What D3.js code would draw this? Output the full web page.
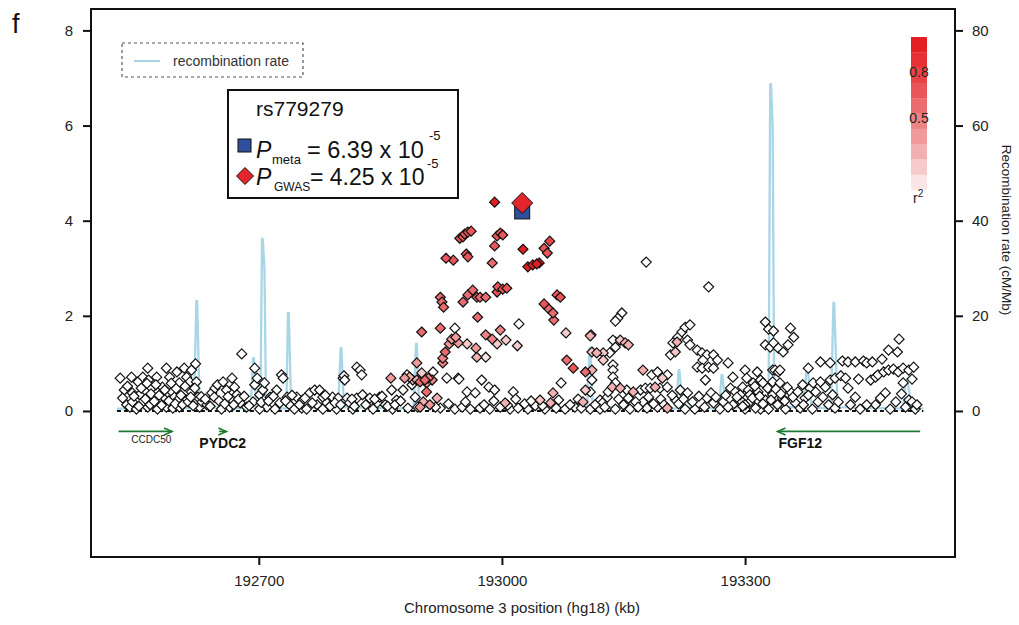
<!DOCTYPE html>
<html lang="en">
<head>
<meta charset="utf-8">
<title>rs779279 regional plot</title>
<script src="https://cdn.jsdelivr.net/npm/d3@7"></script>
<style>
  body { margin: 0; background: #fff; }
  svg { display: block; font-family: "Liberation Sans", Arial, sans-serif; }
</style>
</head>
<body>
<div id="chart"></div>
<script>
// ---- data ----------------------------------------------------------------
// SNP position (kb, hg18), -log10 P and r2 with the lead SNP
const snpPos = [
  // left cloud
  192529,192534,192537,192541,192543,192544,192544,192549,192551,192553,
  192557,192563,192563,192564,192566,192568,192569,192574,192575,192578,
  192581,192586,192586,192588,192590,192593,192594,192596,192599,192600,
  192602,192602,192608,192611,192611,192615,192617,192617,192622,192623,
  192625,192627,
  // 192630 - 192946
  192630,192636,192642,192646,192649,192656,192660,192667,192670,192673,
  192664,192654,192679,192677,192685,192693,192695,192698,192695,192701,
  192705,192707,192714,192710,192722,192728,192730,192726,192735,192738,
  192747,192754,192753,192763,192769,192775,192779,192772,192784,192791,
  192798,192804,192805,192806,192809,192812,192821,192825,192827,192821,
  192828,192837,192846,192849,192856,192863,192864,192870,192878,192880,
  192886,192889,192893,192895,192896,192884,192865,192841,192816,192796,
  192779,192759,192744,192720,192701,192883,192895,192901,192924,192942,
  192930,192927,192927,192899,192905,192909,192914,192907,192920,192901,
  192915,192932,192946,192899,
  // association peak
  192991,192948,192952,192954,192958,192962,192994,192998,193001,192991,
  193026,193052,193059,193056,192956,192958,192931,192940,192988,193032,
  193038,193043,193046,192924,192926,192928,192952,192958,192964,192969,
  192973,192980,192994,192995,193001,193006,193068,193072,193052,193057,
  193063,193064,192970,192998,192980,192988,193005,192994,193021,193019,
  192938,192943,192946,192935,192957,192968,192980,192969,193079,193110,
  193080,193088,193103,193111,193073,193063,193103,192947,192975,192984,
  192957,192967,193014,192991,192907,192890,192924,192942,192951,192961,
  192973,192985,192998,193010,193020,193032,193041,193053,193067,193078,
  193090,193109,193004,193047,193100,
  // 193100 - 193320
  193148,193143,193140,193178,193255,193109,193111,193117,193125,193133,
  193125,193111,193140,193137,193146,193152,193156,193140,193137,193137,
  193137,193140,193174,193109,193121,193130,193124,193136,193146,193154,
  193162,193171,193177,193183,193189,193195,193204,193185,193192,193198,
  193204,193208,193214,193211,193217,193222,193226,193232,193229,193232,
  193216,193241,193247,193253,193261,193266,193248,193241,193247,193255,
  193261,193279,193251,193285,193300,193315,193282,193288,193297,193304,
  193310,193220,193229,193214,193253,193261,193273,193285,193294,193306,
  193162,193174,193192,193204,193179,193121,193140,193158,193226,193238,
  193269,193300,193319,
  // FGF12 region
  193325,193329,193335,193356,193360,193325,193331,193335,193341,193347,
  193353,193334,193337,193341,193343,193302,193319,193322,193334,193343,
  193378,193393,193405,193420,193427,193436,193446,193450,193457,193469,
  193477,193488,193490,193371,193380,193384,193393,193399,193405,193411,
  193418,193424,193427,193440,193455,193461,193464,193471,193477,193483,
  193489,193495,193502,193508,193506,193495,193473,193502,193506,193403,
  193411,193294,193300,193306,193313,193316,193325,193329,193334,193340,
  193346,193350,193356,193362,193368,193374,193383,193390,193430,193442,
  193461,193479,193498,193510,
  // low band along the whole region
  192532,192538,192546,192552,192555,192560,192562,192567,192571,192573,
  192577,192580,192584,192589,192592,192597,192598,192604,192606,192609,
  192613,192616,192619,192621,192629,192634,192640,192645,192651,192658,
  192662,192669,192675,192682,192688,192703,192712,192718,192733,192741,
  192750,192757,192766,192782,192788,192794,192801,192815,192818,192832,
  192843,192852,192859,192868,192875,192903,192911,192918,192934,192955,
  192978,192990,193007,193017,193028,193036,193050,193060,193070,193084,
  193094,193098,193115,193127,193131,193144,193150,193156,193165,193168,
  193181,193187,193196,193200,193210,193218,193224,193235,193243,193250,
  193258,193264,193276,193279,193290,193297,193309,193312,193318,193322,
  193328,193332,193338,193344,193349,193352,193359,193365,193372,193378,
  193387,193396,193408,193415,193436,193450,193467,193486,193493,193512
];
const snpLogP = [
  0.69,0.44,0.13,0.08,0.71,0.38,0.19,0.04,0.61,0.34,
  0.71,0.90,0.08,0.65,0.13,0.48,0.29,0.71,0.04,0.17,
  0.50,0.90,0.08,0.38,0.71,0.40,0.06,0.29,0.82,0.23,
  0.59,0.08,0.90,0.71,0.23,0.61,0.86,0.40,0.99,0.61,
  0.29,0.08,

  0.19,0.13,0.38,0.48,0.55,0.61,0.44,0.69,0.50,0.34,
  0.08,0.04,1.20,0.17,0.08,0.19,0.55,0.69,0.90,0.34,
  0.44,0.59,0.29,0.08,0.44,0.76,0.69,0.17,0.29,0.13,
  0.29,0.23,0.06,0.38,0.44,0.44,0.29,0.13,0.17,0.29,
  0.27,0.69,0.74,0.65,0.27,0.17,0.92,0.86,0.76,0.27,
  0.34,0.27,0.17,0.29,0.13,0.69,0.44,0.23,0.44,0.69,
  0.71,0.55,0.29,1.01,0.08,0.06,0.04,0.04,0.04,0.04,
  0.04,0.04,0.04,0.04,0.04,0.76,0.65,1.66,1.74,1.74,
  1.24,1.11,1.01,0.61,0.65,0.69,0.65,0.40,0.27,0.80,
  0.82,0.69,0.69,0.08,

  4.39,3.63,3.66,3.72,3.76,3.78,3.68,3.74,3.70,3.47,
  3.40,3.42,3.57,3.32,3.30,3.24,3.21,3.17,3.11,3.03,
  3.07,3.09,3.11,2.39,2.29,2.18,2.29,2.44,2.54,2.39,
  2.39,2.39,2.50,2.61,2.56,2.58,2.44,2.39,2.25,2.16,
  2.06,1.91,1.97,1.70,1.60,1.51,1.49,1.41,1.83,1.37,
  1.51,1.55,1.43,1.41,1.41,1.32,1.13,1.13,1.64,1.60,
  1.07,0.90,0.82,0.86,0.59,0.38,0.44,0.67,0.65,0.50,
  0.40,0.38,0.40,0.44,0.59,0.65,0.06,0.04,0.08,0.04,
  0.06,0.04,0.08,0.04,0.06,0.04,0.11,0.04,0.06,0.04,
  0.08,0.04,0.17,0.23,0.19,

  2.06,1.95,1.89,3.13,2.61,1.58,1.24,1.22,1.22,1.22,
  1.07,0.65,1.45,1.49,1.49,1.43,1.39,1.34,0.97,0.86,
  0.71,0.59,0.86,0.40,0.23,0.29,0.17,0.50,0.48,0.44,
  0.40,0.44,0.48,0.48,0.50,0.48,0.50,0.76,0.82,0.69,
  0.76,1.18,1.24,1.43,1.55,1.66,1.76,1.81,1.49,1.39,
  1.45,1.28,1.22,1.18,1.18,1.07,1.07,0.92,0.90,0.92,
  0.90,1.01,0.65,0.71,0.86,0.82,0.48,0.40,0.50,0.44,
  0.59,0.44,0.38,0.23,0.27,0.17,0.19,0.13,0.23,0.19,
  0.17,0.19,0.08,0.06,0.06,0.04,0.04,0.04,0.04,0.04,
  0.04,0.04,0.04,

  1.87,1.72,1.68,1.74,1.55,1.39,1.34,1.43,1.32,1.24,
  1.39,0.86,0.86,0.82,0.86,0.69,0.65,0.59,0.61,0.59,
  0.90,1.03,1.01,1.05,1.03,1.03,1.05,1.01,1.03,1.09,
  1.28,1.24,1.51,0.55,0.48,0.59,0.61,0.50,0.65,0.69,
  0.74,0.69,0.48,0.67,0.65,0.71,0.76,0.82,0.86,0.88,
  0.82,0.90,0.86,0.92,0.67,0.59,0.38,0.23,0.19,0.13,
  0.06,0.34,0.13,0.34,0.06,0.40,0.23,0.04,0.34,0.13,
  0.27,0.04,0.40,0.17,0.06,0.27,0.04,0.19,0.13,0.04,
  0.13,0.04,0.08,0.04,

  0.27,0.52,0.31,0.10,0.48,0.25,0.58,0.36,0.20,0.55,
  0.33,0.12,0.44,0.21,0.58,0.15,0.47,0.33,0.13,0.52,
  0.19,0.29,0.11,0.48,0.30,0.25,0.10,0.29,0.21,0.15,
  0.30,0.13,0.25,0.31,0.11,0.18,0.21,0.31,0.21,0.33,
  0.13,0.27,0.17,0.33,0.10,0.17,0.13,0.25,0.10,0.13,
  0.25,0.31,0.10,0.13,0.21,0.19,0.13,0.08,0.15,0.19,
  0.13,0.21,0.12,0.25,0.15,0.21,0.11,0.17,0.23,0.13,
  0.25,0.06,0.13,0.08,0.40,0.25,0.13,0.27,0.19,0.08,
  0.29,0.15,0.25,0.13,0.33,0.15,0.25,0.19,0.31,0.08,
  0.38,0.29,0.33,0.08,0.29,0.10,0.27,0.52,0.31,0.15,
  0.48,0.23,0.46,0.36,0.21,0.50,0.29,0.40,0.13,0.33,
  0.40,0.29,0.34,0.19,0.29,0.13,0.27,0.19,0.36,0.13
];
const snpR2 = [
  0,0,0,0,0,0,0,0,0,0,
  0,0,0,0,0,0,0,0,0,0,
  0,0,0,0,0,0,0,0,0,0,
  0,0,0,0,0,0,0,0,0,0,
  0,0,

  0,0,0,0,0,0,0,0,0,0,
  0,0,0,0,0,0,0,0,0,0,
  0,0,0,0,0,0,0,0,0,0,
  0,0,0,0,0,0,0,0,0,0,
  0,0,0,0,0,0,0,0,0,0,
  0,0,0,0,0,0.3,0,0,0,0.3,
  0.2,0,0,0.3,0,0,0,0,0,0,
  0,0,0,0,0,0,0.25,0.5,0.5,0,
  0.5,0.45,0.4,0.5,0.5,0.45,0.4,0.5,0.25,0.1,
  0,0,0,0.3,

  0.95,0.65,0.65,0.65,0.65,0.65,0.6,0.6,0.6,0.6,
  0.9,0.65,0.7,0.65,0.6,0.6,0.65,0.6,0.55,0.95,
  0.95,0.95,0.9,0.55,0.55,0.55,0.55,0.55,0.55,0.55,
  0.55,0.55,0.6,0.6,0.6,0.6,0.6,0.6,0.6,0.55,
  0.55,0.5,0.55,0.45,0.4,0.4,0.1,0.1,0,0.1,
  0.35,0.35,0.3,0.3,0.1,0.3,0.05,0.2,0.15,0.1,
  0.5,0.6,0.55,0.25,0,0.25,0.15,0,0,0,
  0,0,0,0,0.3,0.1,0,0,0,0,
  0,0,0,0,0,0,0,0,0,0,
  0,0,0.2,0.15,0.2,

  0,0,0,0,0,0.2,0.15,0.2,0.1,0,
  0.1,0,0,0,0.1,0.2,0.2,0,0,0,
  0,0,0.2,0,0,0,0,0.2,0.2,0,
  0.2,0,0,0,0.2,0,0,0,0,0.1,
  0,0,0.1,0,0,0,0,0,0,0,
  0.2,0,0,0,0,0,0,0,0,0,
  0,0,0,0,0,0,0,0,0,0,
  0,0,0,0,0,0,0,0,0,0,
  0,0,0,0.2,0,0,0,0,0,0,
  0,0,0,

  0,0,0,0,0,0,0,0,0,0,
  0,0,0,0,0,0,0,0,0,0,
  0,0,0,0,0,0,0,0,0,0,
  0,0,0,0,0,0,0,0,0,0,
  0,0,0,0,0,0,0,0,0,0,
  0,0,0,0,0,0,0,0,0,0,
  0,0,0,0,0,0,0,0,0,0,
  0,0,0,0,0,0,0,0,0,0,
  0,0,0,0,

  0,0,0,0,0,0,0,0,0,0,
  0,0,0,0,0,0,0,0,0,0,
  0,0,0,0,0,0,0,0,0,0,
  0,0,0,0,0,0,0,0,0,0,
  0,0,0,0,0,0,0,0,0,0,
  0,0,0,0,0,0.2,0.3,0,0,0,
  0,0,0,0,0,0,0,0.2,0,0,
  0,0,0,0,0,0,0,0,0,0,
  0,0,0,0,0,0,0,0,0,0,
  0,0,0,0,0,0,0,0,0,0,
  0,0,0,0,0,0,0,0,0,0,
  0,0,0,0,0,0,0,0,0,0
];

// lead SNP
const leadSnp = "rs779279";
const leadPos = 193025;
const leadPMeta = 6.39e-5;
const leadPGwas = 4.25e-5;

// recombination rate (cM/Mb)
const recombPos = [192525,192620,192623,192624,192627,192690,192693,192694,192697,192702,
  192704,192705,192707,192709,192734,192736,192737,192740,192798,192801,
  192802,192805,192891,192894,192895,192898,192930,192934,192938,193105,
  193108,193109,193112,193150,193157,193160,193165,193215,193218,193219,
  193223,193268,193271,193272,193276,193329,193331,193332,193334,193336,
  193372,193376,193377,193382,193406,193409,193410,193414,193495,193498,
  193500,193506,193520];
const recombRate = [0.5,0.6,23.1,23.1,0.8,0.5,11.1,11.1,0.8,0.8,
  36.3,36.0,30,0.8,0.5,20.6,20.6,0.8,0.5,13.2,
  13.2,0.8,0.5,14.1,14.1,0.8,0.8,2.0,0.6,0.5,
  13.2,13.2,0.8,0.8,3.0,3.0,0.8,0.5,8.6,8.6,
  0.8,0.5,7.6,7.6,0.8,0.5,68.7,68.7,60,0.8,
  0.8,9.2,9.2,0.8,0.5,22.7,22.7,0.8,0.5,6.5,
  6.5,0.8,0.5];

// genes
const geneNames = ["CCDC50", "PYDC2", "FGF12"];
const geneStart = [192527, 192651, 193340];
const geneEnd = [192593, 192660, 193516];
const geneStrand = ["+", "+", "-"];

// axes
const xTicks = [192700, 193000, 193300];
const yTicks = [0, 2, 4, 6, 8];
const recombTicks = [0, 20, 40, 60, 80];
const r2Labels = [0.8, 0.5];

// ---- layout --------------------------------------------------------------
const width = 1019, height = 625;
const frame = { left: 91, right: 955, top: 9, bottom: 557 };
const font = "'Liberation Sans', Arial, sans-serif";

// r2 colour bins, lowest to highest
const r2Colors = ["#fbe6e6","#f6c9ca","#f3b0b1","#f19a9b","#ee8385",
                  "#ec6b6e","#e9565a","#e84448","#e53035","#e41f24"];
function r2Color(r) {
  if (r < 0.05) return "#ffffff";
  return r2Colors[Math.min(9, Math.floor(r * 10))];
}

const x = d3.scaleLinear().domain([192493, 193559]).range([frame.left, frame.right]);
const y = d3.scaleLinear().domain([-3.07, 8.45]).range([frame.bottom, frame.top]);
const yRec = d3.scaleLinear().domain([-30.7, 84.5]).range([frame.bottom, frame.top]);

const svg = d3.select("#chart").append("svg")
  .attr("width", width)
  .attr("height", height);

// panel letter
svg.append("text").attr("x", 12).attr("y", 33)
  .attr("font-size", 27).attr("fill", "#111").text("f");

// recombination rate line
const recData = recombPos.map((p, i) => [p, recombRate[i]]);
svg.append("path")
  .datum(recData)
  .attr("fill", "none")
  .attr("stroke", "#a9d6e6")
  .attr("stroke-width", 2.3)
  .attr("stroke-linejoin", "round")
  .attr("d", d3.line().x(d => x(d[0])).y(d => yRec(d[1])));

// dashed zero line
const span = d3.extent(recombPos);
svg.append("line")
  .attr("x1", x(span[0])).attr("x2", x(span[1]))
  .attr("y1", y(0)).attr("y2", y(0))
  .attr("stroke", "#111").attr("stroke-width", 2)
  .attr("stroke-dasharray", "4,3");

// snp points, light ones first so red ones sit on top
const snps = snpPos.map((p, i) => ({ pos: p, logp: snpLogP[i], r2: snpR2[i] }))
  .sort((a, b) => a.r2 - b.r2);
const diamond = r => `M0,${-r}L${r},0L0,${r}L${-r},0Z`;

svg.append("g")
  .selectAll("path")
  .data(snps)
  .join("path")
  .attr("transform", d => `translate(${x(d.pos)},${y(d.logp)})`)
  .attr("d", diamond(5))
  .attr("fill", d => r2Color(d.r2))
  .attr("stroke", "#111")
  .attr("stroke-width", 1.2);

// lead snp: meta (blue square) and gwas (red diamond)
const metaY = y(-Math.log10(leadPMeta));
const gwasY = y(-Math.log10(leadPGwas));
svg.append("rect")
  .attr("x", x(leadPos) - 7.5).attr("y", metaY - 7.5)
  .attr("width", 15).attr("height", 15)
  .attr("fill", "#2f4f9e").attr("stroke", "#111").attr("stroke-width", 1);
svg.append("path")
  .attr("transform", `translate(${x(leadPos)},${gwasY})`)
  .attr("d", diamond(10.5))
  .attr("fill", "#e3262b").attr("stroke", "#111").attr("stroke-width", 1);

// genes
const geneColor = "#1f7a35";
const geneY = y(-0.43);
const genes = svg.append("g");
geneNames.forEach((name, i) => {
  const x0 = x(geneStart[i]), x1 = x(geneEnd[i]);
  const tip = geneStrand[i] === "+" ? x1 : x0;
  const dir = geneStrand[i] === "+" ? -1 : 1;
  genes.append("line")
    .attr("x1", x0).attr("x2", x1).attr("y1", geneY).attr("y2", geneY)
    .attr("stroke", geneColor).attr("stroke-width", 1.6);
  genes.append("path")
    .attr("d", `M${tip + dir * 8},${geneY - 3.5}L${tip},${geneY}L${tip + dir * 8},${geneY + 3.5}`)
    .attr("fill", "none").attr("stroke", geneColor).attr("stroke-width", 1.6);
});
genes.append("text").attr("x", (x(geneStart[0]) + x(geneEnd[0])) / 2 + 6).attr("y", geneY + 12)
  .attr("text-anchor", "middle").attr("font-size", 10).attr("fill", "#222").text(geneNames[0]);
genes.append("text").attr("x", (x(geneStart[1]) + x(geneEnd[1])) / 2).attr("y", geneY + 17)
  .attr("text-anchor", "middle").attr("font-size", 14).attr("font-weight", "bold").attr("fill", "#111").text(geneNames[1]);
genes.append("text").attr("x", x(geneStart[2]) + 1).attr("y", geneY + 17)
  .attr("font-size", 14).attr("font-weight", "bold").attr("fill", "#111").text(geneNames[2]);

// frame
svg.append("rect")
  .attr("x", frame.left).attr("y", frame.top)
  .attr("width", frame.right - frame.left).attr("height", frame.bottom - frame.top)
  .attr("fill", "none").attr("stroke", "#111").attr("stroke-width", 2);

function styleAxis(g) {
  g.select(".domain").remove();
  g.selectAll(".tick line").attr("stroke", "#111").attr("stroke-width", 2);
  g.selectAll(".tick text").attr("font-size", 15).attr("fill", "#222").attr("font-family", font);
}

svg.append("g")
  .attr("transform", `translate(${frame.left},0)`)
  .call(d3.axisLeft(y).tickValues(yTicks).tickSize(8).tickPadding(10))
  .call(styleAxis);

svg.append("g")
  .attr("transform", `translate(${frame.right},0)`)
  .call(d3.axisRight(yRec).tickValues(recombTicks).tickSize(8).tickPadding(9))
  .call(styleAxis);

svg.append("g")
  .attr("transform", `translate(0,${frame.bottom})`)
  .call(d3.axisBottom(x).tickValues(xTicks).tickSize(8).tickPadding(10).tickFormat(d3.format("d")))
  .call(styleAxis);

svg.append("text")
  .attr("x", (frame.left + frame.right) / 2 - 1).attr("y", 613)
  .attr("text-anchor", "middle").attr("font-size", 15).attr("fill", "#222")
  .text("Chromosome 3 position (hg18) (kb)");

svg.append("text")
  .attr("transform", "translate(1002,230) rotate(90)")
  .attr("text-anchor", "middle").attr("font-size", 13.5).attr("fill", "#222")
  .text("Recombination rate (cM/Mb)");

// recombination legend
svg.append("rect")
  .attr("x", 122).attr("y", 43).attr("width", 181).attr("height", 34)
  .attr("fill", "none").attr("stroke", "#555").attr("stroke-width", 1.2)
  .attr("stroke-dasharray", "3,3");
svg.append("line")
  .attr("x1", 134).attr("x2", 160).attr("y1", 61).attr("y2", 61)
  .attr("stroke", "#a9d6e6").attr("stroke-width", 2);
svg.append("text").attr("x", 173).attr("y", 66)
  .attr("font-size", 14).attr("fill", "#333").text("recombination rate");

// lead snp info box
const info = svg.append("g");
info.append("rect")
  .attr("x", 228).attr("y", 90).attr("width", 230).attr("height", 108)
  .attr("fill", "#fff").attr("stroke", "#111").attr("stroke-width", 2);
info.append("text").attr("x", 256).attr("y", 116)
  .attr("font-size", 21).attr("fill", "#111").text(leadSnp);

info.append("rect").attr("x", 238).attr("y", 139).attr("width", 13).attr("height", 13)
  .attr("fill", "#2f4f9e").attr("stroke", "#111").attr("stroke-width", 1);
info.append("text").attr("x", 256).attr("y", 158).attr("font-size", 23)
  .attr("font-style", "italic").attr("fill", "#111").text("P");
info.append("text").attr("x", 272).attr("y", 164).attr("font-size", 13)
  .attr("fill", "#111").text("meta");
info.append("text").attr("x", 307).attr("y", 158).attr("font-size", 23.5)
  .attr("fill", "#111").text(`= ${(leadPMeta / 1e-5).toFixed(2)} x 10`);
info.append("text").attr("x", 429).attr("y", 140).attr("font-size", 13)
  .attr("fill", "#111").text("-5");

info.append("path").attr("transform", "translate(245,176)").attr("d", diamond(8.5))
  .attr("fill", "#e3262b").attr("stroke", "#111").attr("stroke-width", 1);
info.append("text").attr("x", 256).attr("y", 185).attr("font-size", 23)
  .attr("font-style", "italic").attr("fill", "#111").text("P");
info.append("text").attr("x", 274).attr("y", 191).attr("font-size", 12)
  .attr("fill", "#111").text("GWAS");
info.append("text").attr("x", 310).attr("y", 185).attr("font-size", 23)
  .attr("fill", "#111").text(`= ${(leadPGwas / 1e-5).toFixed(2)} x 10`);
info.append("text").attr("x", 427).attr("y", 168).attr("font-size", 13)
  .attr("fill", "#111").text("-5");

// r2 colour bar
const barTop = 37, binH = 15.3;
const bar = svg.append("g");
r2Colors.slice().reverse().forEach((c, i) => {
  bar.append("rect")
    .attr("x", 911).attr("y", barTop + i * binH)
    .attr("width", 16).attr("height", binH + 0.3)
    .attr("fill", c);
});
r2Labels.forEach(v => {
  bar.append("text")
    .attr("x", 919).attr("y", barTop + (1 - v) * 10 * binH + 9)
    .attr("text-anchor", "middle").attr("font-size", 14).attr("fill", "#222")
    .text(v);
});
const r2t = bar.append("text").attr("x", 913).attr("y", 203).attr("font-size", 14).attr("fill", "#222");
r2t.append("tspan").text("r");
r2t.append("tspan").attr("dy", -6).attr("font-size", 10).text("2");
</script>
</body>
</html>
